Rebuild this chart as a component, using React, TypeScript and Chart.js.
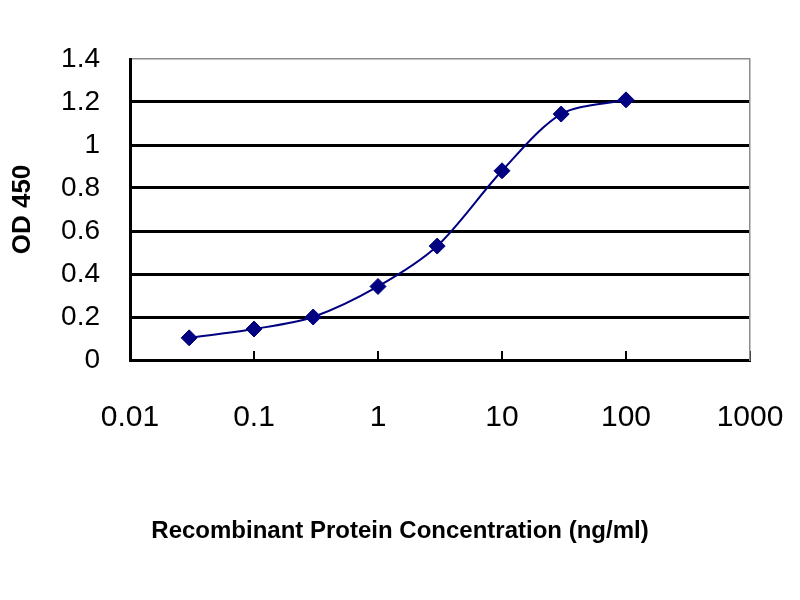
import { useEffect, useRef } from "react"
import { Chart, registerables, type ChartConfiguration } from "chart.js"

Chart.register(...registerables)

// concentration (ng/ml) and OD 450
const concentrations = [0.03, 0.1, 0.3, 1, 3, 10, 30, 100]
const odValues = [0.103, 0.144, 0.2, 0.342, 0.53, 0.88, 1.144, 1.21]

const xTicks = [0.01, 0.1, 1, 10, 100, 1000]
const xTickLabels = ["0.01", "0.1", "1", "10", "100", "1000"]
const yTicks = [0, 0.2, 0.4, 0.6, 0.8, 1, 1.2, 1.4]
const yTickLabels = ["0", "0.2", "0.4", "0.6", "0.8", "1", "1.2", "1.4"]

const FONT = "'Liberation Sans', Arial, sans-serif"
const TITLE_SIZE = 24
const TITLE_PAD = 54
const TITLE_BOX = TITLE_SIZE * 1.2 + TITLE_PAD

export default function App() {
  const canvasRef = useRef<HTMLCanvasElement>(null)
  const chartRef = useRef<Chart | null>(null)

  useEffect(() => {
    if (!canvasRef.current) return
    if (chartRef.current) chartRef.current.destroy()

    const config: ChartConfiguration = {
      type: "line",
      data: {
        datasets: [
          {
            label: "OD 450",
            data: concentrations.map((x, i) => ({ x, y: odValues[i] })),
            borderColor: "#000080",
            backgroundColor: "#000080",
            borderWidth: 2,
            pointStyle: "rectRot",
            pointRadius: 8,
            pointBorderWidth: 1,
            tension: 0.3,
            xAxisID: "x",
            yAxisID: "y",
          },
        ],
      },
      options: {
        responsive: false,
        animation: false,
        layout: { padding: { top: 59, left: 0, right: 0, bottom: 0 } },
        plugins: {
          legend: { display: false },
          tooltip: { enabled: false },
          title: {
            display: true,
            position: "bottom",
            text: "Recombinant Protein Concentration (ng/ml)",
            color: "#000",
            font: { family: FONT, size: TITLE_SIZE, weight: "bold" },
            padding: { top: 0, bottom: TITLE_PAD },
          },
        },
        scales: {
          x: {
            type: "logarithmic",
            min: 0.01,
            max: 1000,
            afterBuildTicks: (s: any) => {
              s.ticks = xTicks.map((v) => ({ value: v }))
            },
            afterFit: (s: any) => {
              s.height = 240 - TITLE_BOX
              s.paddingLeft = 0
              s.paddingRight = 0
            },
            border: { display: true, color: "#000", width: 3 },
            grid: {
              drawOnChartArea: false,
              drawTicks: true,
              tickLength: -9,
              color: "#000",
              lineWidth: 2,
            },
            ticks: {
              autoSkip: false,
              maxRotation: 0,
              padding: 49,
              color: "#000",
              font: { family: FONT, size: 30 },
              callback: (_v: any, i: number) => xTickLabels[i],
            },
          },
          y: {
            type: "linear",
            min: 0,
            max: 1.4,
            afterBuildTicks: (s: any) => {
              s.ticks = yTicks.map((v) => ({ value: v }))
            },
            afterFit: (s: any) => {
              s.width = 130
              s.paddingTop = 0
              s.paddingBottom = 0
            },
            border: { display: true, color: "#000", width: 3 },
            grid: {
              drawTicks: false,
              color: (ctx: any) => (ctx.tick && ctx.tick.value === 1.4 ? "#8c8c8c" : "#000"),
              lineWidth: (ctx: any) => (ctx.tick && ctx.tick.value === 1.4 ? 1.5 : 3),
            },
            ticks: {
              padding: 30,
              color: "#000",
              font: { family: FONT, size: 28 },
              callback: (_v: any, i: number) => yTickLabels[i],
            },
            title: {
              display: true,
              text: "OD 450",
              color: "#000",
              font: { family: FONT, size: 26, weight: "bold" },
              padding: { top: 7, bottom: 0 },
            },
          },
          y2: {
            type: "linear",
            position: "right",
            min: 0,
            max: 1.4,
            afterFit: (s: any) => {
              s.width = 50
            },
            border: { display: true, color: "#8c8c8c", width: 1.5 },
            grid: { drawOnChartArea: false, drawTicks: false },
            ticks: { display: false },
          },
        },
      },
    }

    chartRef.current = new Chart(canvasRef.current, config)

    return () => {
      if (chartRef.current) {
        chartRef.current.destroy()
        chartRef.current = null
      }
    }
  }, [])

  return (
    <div style={{ position: "fixed", left: 0, top: 0, width: 800, height: 600, background: "#fff" }}>
      <canvas ref={canvasRef} width={800} height={600}></canvas>
    </div>
  )
}
